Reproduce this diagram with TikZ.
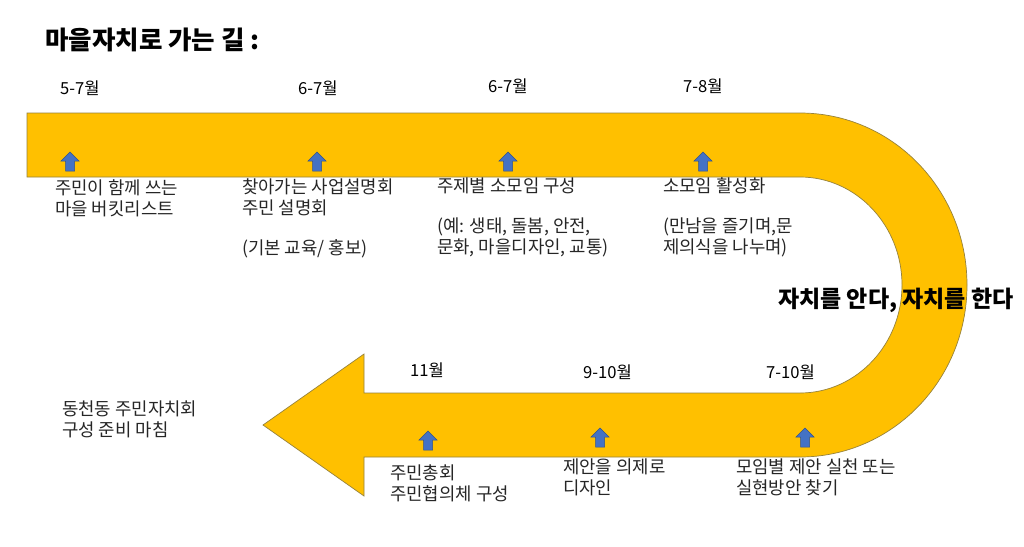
\documentclass[tikz,border=0pt]{standalone}
\usepackage{fontspec}
\setmainfont{Noto Sans CJK KR}
\definecolor{bandfill}{RGB}{255,192,0}
\definecolor{banddraw}{RGB}{150,130,60}
\definecolor{arrfill}{RGB}{68,114,196}
\definecolor{arrdraw}{RGB}{47,82,143}
\definecolor{textgray}{RGB}{38,38,38}
\tikzset{
  uparrow/.pic={\path[draw=arrdraw,fill=arrfill,line width=0.5pt]
    (-4.5,0) -- (-4.5,-10) -- (-9,-10) -- (0,-19) -- (9,-10) -- (4.5,-10) -- (4.5,0) -- cycle;}
}
\begin{document}
\begin{tikzpicture}[x=1pt,y=-1pt,
  band/.style={fill=bandfill, draw=banddraw, line width=0.7pt, line join=miter},
  txt/.style={anchor=west, inner sep=0pt, align=left, text=textgray, font=\fontsize{17.8}{21}\selectfont},
  month/.style={anchor=west, inner sep=0pt, text=black, font=\fontsize{16.6}{19}\selectfont},
  bigtxt/.style={anchor=west, inner sep=0pt, text=black, font=\bfseries\fontsize{23}{27}\selectfont},
]
\useasboundingbox (0,0) rectangle (1024,546);
\fill[white] (0,0) rectangle (1024,546);

% main U-turn arrow
\path[band] (27,113) -- (800,113)
  .. controls (892.2,113) and (967,190) .. (967,285)
  .. controls (967,380) and (892.2,457) .. (800,457)
  -- (364,457) -- (364,496) -- (263,425) -- (364,354) -- (364,393) -- (800,393)
  .. controls (856.3,393) and (902,344.6) .. (902,285)
  .. controls (902,225.4) and (856.3,177) .. (800,177)
  -- (27,177) -- cycle;

% blue arrows
\pic at (70,171) {uparrow};
\pic at (317,171) {uparrow};
\pic at (508,171) {uparrow};
\pic at (703,171) {uparrow};
\pic at (428,450) {uparrow};
\pic at (600,447) {uparrow};
\pic at (805,447) {uparrow};

% title
\node[bigtxt, font=\bfseries\fontsize{25.5}{29}\selectfont] (title) at (45,40) {마을자치로 가는 길 :};

% months
\node[month] (m1) at (60,88) {5-7월};
\node[month] (m2) at (298,88) {6-7월};
\node[month] (m3) at (488,86) {6-7월};
\node[month] (m4) at (683,86) {7-8월};
\node[month] (m5) at (410,370) {11월};
\node[month] (m6) at (583,372) {9-10월};
\node[month] (m7) at (766,372) {7-10월};

% descriptions
\node[txt] (d1) at (55,198.5) {주민이 함께 쓰는\\마을 버킷리스트};
\node[txt] (d2) at (242,218) {찾아가는 사업설명회\\주민 설명회\\[19pt](기본 교육/ 홍보)};
\node[txt] (d3) at (437,217) {주제별 소모임 구성\\[19pt](예: 생태, 돌봄, 안전,\\문화, 마을디자인, 교통)};
\node[txt] (d4) at (663,217) {소모임 활성화\\[19pt](만남을 즐기며,문\\제의식을 나누며)};
\node[txt] (d5) at (62,419) {동천동 주민자치회\\구성 준비 마침};
\node[txt] (d6) at (390,483) {주민총회\\주민협의체 구성};
\node[txt] (d7) at (563,477.5) {제안을 의제로\\디자인};
\node[txt] (d8) at (736,477) {모임별 제안 실천 또는\\실현방안 찾기};

% centre slogan
\node[bigtxt] (slogan) at (778,300) {자치를 안다, 자치를 한다};
\end{tikzpicture}
\end{document}
